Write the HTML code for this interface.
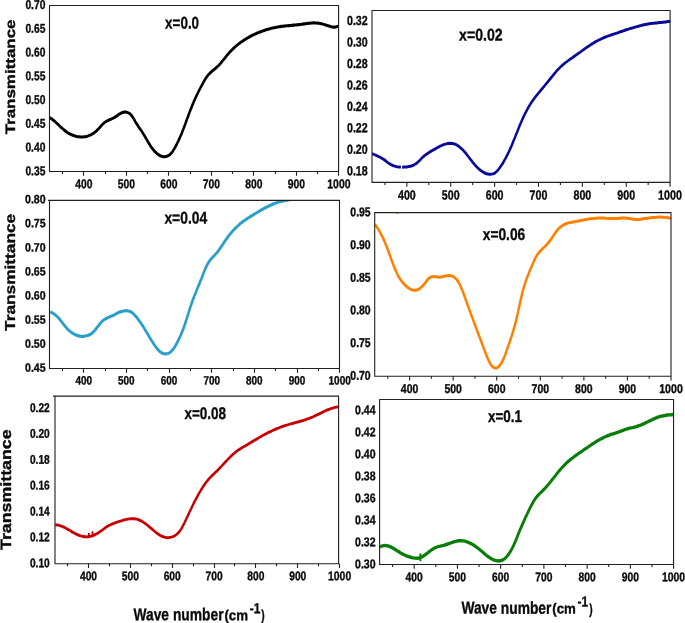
<!DOCTYPE html>
<html><head><meta charset="utf-8"><title>FTIR transmittance</title>
<style>html,body{margin:0;padding:0;background:#fff}svg{display:block;will-change:transform}</style>
</head><body>
<svg width="685" height="623" viewBox="0 0 685 623">
<rect width="685" height="623" fill="#ffffff"/>
<g font-family="'Liberation Sans', sans-serif" font-weight="700" fill="#0a0a0a" stroke="#0a0a0a" stroke-width="0.35" stroke-linejoin="round" text-rendering="geometricPrecision">
<g id="p1">
<path d="M62.50 171.50v2.6M83.50 171.50v4.3M105.50 171.50v2.6M126.50 171.50v4.3M147.50 171.50v2.6M168.50 171.50v4.3M190.50 171.50v2.6M211.50 171.50v4.3M232.50 171.50v2.6M253.50 171.50v4.3M275.50 171.50v2.6M296.50 171.50v4.3M317.50 171.50v2.6M338.50 171.50v4.3" stroke="#202020" stroke-width="1.1" fill="none"/>
<clipPath id="c1"><rect x="49.5" y="5.5" width="289.4" height="166.0"/></clipPath>
<g clip-path="url(#c1)"><path transform="scale(0.80 1)" d="M62.5 117.6C62.9 117.8 64.2 118.6 65.0 119.1C65.9 119.6 66.7 120.2 67.5 120.7C68.3 121.3 69.1 121.8 69.8 122.4C70.6 123.0 71.4 123.6 72.1 124.1C72.9 124.7 73.7 125.3 74.4 125.9C75.2 126.5 75.9 127.1 76.7 127.6C77.5 128.2 78.3 128.8 79.1 129.3C79.9 129.8 80.7 130.4 81.5 130.9C82.3 131.4 83.2 131.9 84.0 132.4C84.9 132.8 85.8 133.3 86.7 133.7C87.6 134.1 88.6 134.5 89.6 134.8C90.5 135.1 91.5 135.4 92.6 135.7C93.6 136.0 94.6 136.2 95.7 136.4C96.7 136.6 97.8 136.7 98.9 136.8C99.9 136.9 101.0 137.0 102.1 137.0C103.1 137.0 104.2 136.9 105.2 136.8C106.3 136.7 107.3 136.6 108.3 136.4C109.3 136.2 110.3 135.9 111.2 135.6C112.2 135.3 113.1 135.0 114.1 134.6C115.0 134.2 115.9 133.7 116.8 133.3C117.6 132.8 118.5 132.3 119.3 131.8C120.1 131.2 120.9 130.7 121.7 130.1C122.5 129.5 123.2 128.9 123.9 128.2C124.7 127.6 125.3 126.9 126.0 126.3C126.7 125.7 127.4 125.0 128.1 124.4C128.9 123.8 129.6 123.2 130.4 122.7C131.2 122.2 132.0 121.8 132.9 121.3C133.8 120.9 134.7 120.6 135.7 120.2C136.6 119.9 137.6 119.5 138.6 119.2C139.6 118.9 140.5 118.5 141.5 118.1C142.4 117.8 143.4 117.4 144.3 116.9C145.2 116.4 146.1 115.9 147.0 115.4C147.9 114.9 148.7 114.4 149.6 113.9C150.5 113.5 151.4 113.0 152.4 112.7C153.3 112.4 154.4 112.2 155.4 112.1C156.4 112.0 157.4 112.1 158.4 112.2C159.4 112.4 160.3 112.8 161.2 113.2C162.1 113.6 162.9 114.1 163.6 114.7C164.3 115.3 165.0 116.0 165.6 116.7C166.2 117.4 166.7 118.2 167.3 118.9C167.9 119.7 168.4 120.5 168.9 121.3C169.4 122.0 170.0 122.8 170.6 123.5C171.1 124.2 171.7 124.9 172.3 125.6C172.9 126.4 173.5 127.0 174.0 127.7C174.6 128.4 175.2 129.1 175.8 129.8C176.4 130.5 177.0 131.1 177.6 131.8C178.1 132.5 178.7 133.2 179.2 133.9C179.8 134.6 180.3 135.4 180.9 136.1C181.4 136.8 181.9 137.5 182.4 138.3C183.0 139.0 183.5 139.7 184.0 140.5C184.5 141.2 185.1 141.9 185.6 142.6C186.1 143.4 186.7 144.1 187.3 144.8C187.8 145.5 188.4 146.2 189.0 146.9C189.6 147.6 190.2 148.2 190.9 148.9C191.5 149.6 192.2 150.2 192.9 150.8C193.6 151.5 194.4 152.1 195.2 152.7C196.0 153.3 196.8 153.9 197.6 154.4C198.5 154.9 199.4 155.4 200.3 155.8C201.3 156.1 202.3 156.4 203.3 156.6C204.3 156.7 205.4 156.7 206.4 156.6C207.4 156.5 208.4 156.2 209.4 155.9C210.3 155.6 211.3 155.2 212.1 154.7C212.9 154.2 213.6 153.6 214.3 153.0C215.0 152.3 215.6 151.6 216.2 150.9C216.8 150.2 217.4 149.4 217.9 148.7C218.4 147.9 219.0 147.2 219.5 146.4C220.0 145.7 220.5 144.9 221.0 144.1C221.4 143.4 221.9 142.6 222.4 141.8C222.8 141.1 223.3 140.3 223.7 139.5C224.2 138.8 224.6 138.0 225.0 137.2C225.4 136.5 225.9 135.7 226.3 134.9C226.7 134.2 227.1 133.4 227.5 132.6C227.8 131.8 228.2 131.1 228.6 130.3C229.0 129.5 229.4 128.7 229.7 128.0C230.1 127.2 230.5 126.4 230.8 125.6C231.2 124.8 231.6 124.0 231.9 123.3C232.3 122.5 232.7 121.7 233.0 120.9C233.4 120.1 233.7 119.3 234.1 118.5C234.5 117.8 234.8 117.0 235.2 116.2C235.5 115.4 235.9 114.6 236.3 113.8C236.6 113.0 237.0 112.2 237.4 111.4C237.8 110.6 238.1 109.8 238.5 109.0C238.9 108.3 239.3 107.5 239.7 106.7C240.1 105.9 240.5 105.1 240.9 104.3C241.3 103.5 241.7 102.8 242.1 102.0C242.5 101.2 242.9 100.5 243.3 99.7C243.8 98.9 244.2 98.2 244.6 97.4C245.1 96.6 245.5 95.9 246.0 95.1C246.4 94.4 246.9 93.6 247.3 92.9C247.8 92.1 248.3 91.4 248.7 90.6C249.2 89.9 249.7 89.1 250.2 88.4C250.7 87.6 251.2 86.9 251.7 86.1C252.2 85.4 252.7 84.6 253.2 83.9C253.7 83.2 254.2 82.4 254.7 81.7C255.2 80.9 255.8 80.2 256.3 79.5C256.9 78.8 257.4 78.0 258.0 77.4C258.6 76.7 259.3 76.0 259.9 75.3C260.6 74.7 261.3 74.1 262.0 73.5C262.7 72.9 263.5 72.3 264.3 71.7C265.1 71.2 265.9 70.6 266.7 70.1C267.5 69.6 268.4 69.1 269.2 68.5C270.0 68.0 270.8 67.4 271.5 66.8C272.3 66.3 273.0 65.7 273.8 65.1C274.5 64.5 275.2 63.8 275.9 63.2C276.6 62.5 277.2 61.9 277.9 61.2C278.6 60.6 279.2 59.9 279.9 59.3C280.5 58.6 281.2 57.9 281.8 57.3C282.5 56.6 283.2 56.0 283.8 55.3C284.5 54.7 285.2 54.0 285.9 53.4C286.6 52.8 287.3 52.1 288.0 51.5C288.7 50.9 289.4 50.3 290.2 49.7C290.9 49.1 291.7 48.6 292.4 48.0C293.2 47.4 294.0 46.8 294.7 46.3C295.5 45.7 296.3 45.2 297.1 44.7C297.9 44.1 298.8 43.6 299.6 43.1C300.4 42.6 301.3 42.1 302.2 41.6C303.0 41.1 303.9 40.7 304.8 40.2C305.7 39.8 306.6 39.3 307.5 38.9C308.4 38.4 309.3 38.0 310.2 37.6C311.1 37.2 312.0 36.7 313.0 36.4C313.9 36.0 314.9 35.6 315.8 35.2C316.8 34.8 317.7 34.5 318.7 34.1C319.6 33.8 320.6 33.4 321.6 33.1C322.5 32.8 323.5 32.4 324.5 32.1C325.5 31.8 326.4 31.5 327.4 31.2C328.4 30.9 329.4 30.7 330.4 30.4C331.4 30.1 332.4 29.9 333.4 29.6C334.4 29.4 335.4 29.2 336.4 28.9C337.4 28.7 338.4 28.5 339.4 28.3C340.5 28.1 341.5 27.9 342.5 27.7C343.5 27.5 344.5 27.4 345.6 27.2C346.6 27.1 347.6 26.9 348.7 26.8C349.7 26.6 350.7 26.5 351.8 26.4C352.8 26.3 353.9 26.2 354.9 26.1C355.9 26.0 357.0 25.9 358.0 25.8C359.1 25.7 360.1 25.7 361.2 25.6C362.2 25.5 363.3 25.4 364.3 25.4C365.4 25.3 366.5 25.2 367.5 25.1C368.6 25.0 369.6 25.0 370.7 24.9C371.7 24.8 372.8 24.7 373.8 24.6C374.9 24.5 375.9 24.4 376.9 24.3C378.0 24.1 379.0 24.0 380.1 23.9C381.1 23.8 382.2 23.7 383.2 23.5C384.2 23.4 385.3 23.3 386.3 23.2C387.4 23.2 388.4 23.1 389.4 23.0C390.5 23.0 391.5 23.0 392.6 22.9C393.6 22.9 394.7 23.0 395.7 23.0C396.8 23.1 397.8 23.2 398.9 23.3C399.9 23.4 400.9 23.6 402.0 23.8C403.0 24.0 404.0 24.2 405.1 24.5C406.1 24.7 407.1 25.0 408.1 25.3C409.1 25.6 410.1 25.9 411.1 26.1C412.1 26.4 413.1 26.6 414.1 26.8C415.1 26.9 416.1 27.0 417.1 27.1C418.1 27.1 419.1 27.0 420.2 26.9C421.2 26.7 422.8 26.1 423.4 26.0" stroke="#000000" stroke-width="3.1" fill="none" stroke-linecap="butt" stroke-linejoin="round"/></g>
<rect x="49.50" y="5.50" width="289.10" height="166.00" fill="none" stroke="#202020" stroke-width="1.1"/>
<text transform="translate(25.40 8.88) rotate(0.04)" font-size="12.8" textLength="20.0" lengthAdjust="spacingAndGlyphs">0.70</text>
<text transform="translate(25.40 32.63) rotate(0.04)" font-size="12.8" textLength="20.0" lengthAdjust="spacingAndGlyphs">0.65</text>
<text transform="translate(25.40 56.38) rotate(0.04)" font-size="12.8" textLength="20.0" lengthAdjust="spacingAndGlyphs">0.60</text>
<text transform="translate(25.40 80.13) rotate(0.04)" font-size="12.8" textLength="20.0" lengthAdjust="spacingAndGlyphs">0.55</text>
<text transform="translate(25.40 103.88) rotate(0.04)" font-size="12.8" textLength="20.0" lengthAdjust="spacingAndGlyphs">0.50</text>
<text transform="translate(25.40 127.63) rotate(0.04)" font-size="12.8" textLength="20.0" lengthAdjust="spacingAndGlyphs">0.45</text>
<text transform="translate(25.40 151.38) rotate(0.04)" font-size="12.8" textLength="20.0" lengthAdjust="spacingAndGlyphs">0.40</text>
<text transform="translate(25.40 175.13) rotate(0.04)" font-size="12.8" textLength="20.0" lengthAdjust="spacingAndGlyphs">0.35</text>
<text transform="translate(75.30 188.23) rotate(0.04)" font-size="12.8" textLength="17.2" lengthAdjust="spacingAndGlyphs">400</text>
<text transform="translate(117.80 188.23) rotate(0.04)" font-size="12.8" textLength="17.2" lengthAdjust="spacingAndGlyphs">500</text>
<text transform="translate(160.30 188.23) rotate(0.04)" font-size="12.8" textLength="17.2" lengthAdjust="spacingAndGlyphs">600</text>
<text transform="translate(202.80 188.23) rotate(0.04)" font-size="12.8" textLength="17.2" lengthAdjust="spacingAndGlyphs">700</text>
<text transform="translate(245.30 188.23) rotate(0.04)" font-size="12.8" textLength="17.2" lengthAdjust="spacingAndGlyphs">800</text>
<text transform="translate(287.80 188.23) rotate(0.04)" font-size="12.8" textLength="17.2" lengthAdjust="spacingAndGlyphs">900</text>
<text transform="translate(327.29 188.23) rotate(0.04)" font-size="12.8" textLength="23.2" lengthAdjust="spacingAndGlyphs">1000</text>
<text transform="translate(165.10 28.40) rotate(0.04)" font-size="16.8" textLength="34.0" lengthAdjust="spacingAndGlyphs">x=0.0</text>
</g>
<g id="p2">
<path d="M384.91 182.40v2.6M406.85 182.40v4.3M428.79 182.40v2.6M450.73 182.40v4.3M472.66 182.40v2.6M494.60 182.40v4.3M516.54 182.40v2.6M538.48 182.40v4.3M560.41 182.40v2.6M582.35 182.40v4.3M604.29 182.40v2.6M626.23 182.40v4.3M648.16 182.40v2.6M670.10 182.40v4.3" stroke="#202020" stroke-width="1.1" fill="none"/>
<clipPath id="c2"><rect x="372.0" y="10.5" width="298.4" height="171.9"/></clipPath>
<g clip-path="url(#c2)"><path transform="scale(0.80 1)" d="M465.0 153.6C465.5 153.8 467.0 154.2 467.9 154.6C468.9 154.9 469.9 155.2 470.8 155.6C471.8 155.9 472.7 156.3 473.6 156.7C474.6 157.1 475.5 157.4 476.4 157.9C477.3 158.3 478.2 158.7 479.1 159.2C479.9 159.6 480.8 160.1 481.7 160.6C482.5 161.1 483.4 161.7 484.2 162.2C485.1 162.7 485.9 163.2 486.8 163.7C487.7 164.1 488.6 164.6 489.5 164.9C490.4 165.3 491.4 165.6 492.3 165.9C493.3 166.2 494.3 166.4 495.3 166.6C496.3 166.8 497.4 166.9 498.4 167.0C499.4 167.1 500.5 167.1 501.5 167.1C502.6 167.2 503.7 167.2 504.7 167.1C505.8 167.1 506.9 167.0 507.9 167.0C509.0 166.9 510.1 166.7 511.1 166.6C512.1 166.4 513.2 166.2 514.2 166.0C515.2 165.7 516.1 165.4 517.1 165.1C518.0 164.7 518.9 164.3 519.8 163.8C520.6 163.4 521.4 162.8 522.2 162.3C523.0 161.7 523.7 161.1 524.5 160.5C525.2 159.9 526.0 159.2 526.7 158.6C527.5 158.0 528.2 157.4 529.0 156.8C529.8 156.3 530.6 155.7 531.4 155.2C532.2 154.7 533.0 154.2 533.9 153.8C534.7 153.3 535.6 152.9 536.4 152.4C537.3 152.0 538.2 151.6 539.1 151.1C540.0 150.7 540.9 150.3 541.8 149.9C542.7 149.5 543.7 149.1 544.6 148.6C545.5 148.2 546.4 147.8 547.4 147.4C548.3 147.0 549.3 146.6 550.2 146.2C551.2 145.8 552.2 145.5 553.1 145.2C554.1 144.8 555.1 144.5 556.1 144.3C557.1 144.0 558.1 143.8 559.1 143.6C560.1 143.5 561.1 143.4 562.2 143.3C563.2 143.3 564.3 143.3 565.3 143.4C566.3 143.5 567.3 143.7 568.3 144.0C569.3 144.2 570.2 144.6 571.1 145.1C572.0 145.5 572.9 146.0 573.8 146.5C574.6 147.0 575.4 147.6 576.2 148.2C577.0 148.7 577.8 149.3 578.5 149.9C579.3 150.5 580.0 151.2 580.7 151.8C581.3 152.4 582.0 153.1 582.7 153.7C583.3 154.4 584.0 155.0 584.6 155.7C585.3 156.4 585.9 157.0 586.5 157.7C587.2 158.4 587.8 159.1 588.4 159.7C589.1 160.4 589.7 161.1 590.4 161.7C591.0 162.4 591.7 163.0 592.3 163.7C593.0 164.3 593.7 165.0 594.4 165.6C595.1 166.2 595.8 166.8 596.5 167.4C597.3 168.0 598.0 168.5 598.8 169.1C599.6 169.6 600.4 170.2 601.3 170.7C602.2 171.2 603.0 171.7 604.0 172.1C604.9 172.6 605.8 173.0 606.8 173.3C607.8 173.7 608.8 173.9 609.9 174.1C610.9 174.3 612.0 174.3 613.1 174.3C614.1 174.3 615.2 174.1 616.2 173.9C617.1 173.6 618.0 173.2 618.9 172.8C619.7 172.3 620.5 171.8 621.2 171.2C622.0 170.6 622.6 169.9 623.3 169.2C623.9 168.5 624.6 167.8 625.2 167.1C625.8 166.4 626.4 165.7 627.0 165.0C627.5 164.3 628.1 163.6 628.7 162.9C629.2 162.1 629.8 161.4 630.3 160.7C630.8 159.9 631.3 159.2 631.8 158.5C632.3 157.7 632.8 157.0 633.3 156.2C633.8 155.5 634.3 154.8 634.7 154.0C635.2 153.2 635.6 152.5 636.1 151.7C636.5 151.0 637.0 150.2 637.4 149.5C637.8 148.7 638.3 147.9 638.7 147.2C639.1 146.4 639.5 145.6 639.9 144.9C640.3 144.1 640.7 143.3 641.1 142.5C641.5 141.8 641.9 141.0 642.3 140.2C642.7 139.4 643.1 138.7 643.5 137.9C643.9 137.1 644.3 136.3 644.6 135.5C645.0 134.8 645.4 134.0 645.8 133.2C646.2 132.4 646.6 131.6 647.0 130.9C647.3 130.1 647.7 129.3 648.1 128.5C648.5 127.7 648.9 127.0 649.3 126.2C649.7 125.4 650.1 124.6 650.5 123.8C650.9 123.1 651.4 122.3 651.8 121.5C652.2 120.7 652.6 120.0 653.0 119.2C653.5 118.4 653.9 117.7 654.4 116.9C654.8 116.1 655.3 115.4 655.7 114.6C656.2 113.9 656.6 113.1 657.1 112.4C657.6 111.6 658.1 110.9 658.6 110.1C659.1 109.4 659.6 108.7 660.1 107.9C660.6 107.2 661.1 106.5 661.7 105.8C662.2 105.0 662.8 104.3 663.3 103.6C663.9 102.9 664.5 102.2 665.1 101.5C665.7 100.8 666.3 100.1 666.9 99.5C667.5 98.8 668.1 98.1 668.7 97.4C669.4 96.8 670.0 96.1 670.7 95.5C671.4 94.8 672.0 94.2 672.7 93.5C673.4 92.9 674.0 92.2 674.7 91.6C675.4 90.9 676.0 90.3 676.7 89.6C677.4 89.0 678.0 88.4 678.7 87.7C679.4 87.1 680.0 86.4 680.7 85.8C681.4 85.1 682.0 84.5 682.7 83.8C683.4 83.2 684.0 82.5 684.7 81.9C685.4 81.2 686.0 80.6 686.7 79.9C687.3 79.3 688.0 78.6 688.7 78.0C689.3 77.3 690.0 76.7 690.7 76.0C691.3 75.4 692.0 74.7 692.6 74.0C693.3 73.4 694.0 72.7 694.7 72.1C695.3 71.4 696.0 70.8 696.7 70.2C697.4 69.5 698.2 68.9 698.9 68.3C699.6 67.7 700.4 67.1 701.1 66.6C701.9 66.0 702.7 65.5 703.5 64.9C704.3 64.4 705.1 63.8 705.9 63.3C706.7 62.8 707.5 62.3 708.4 61.8C709.2 61.3 710.0 60.8 710.9 60.3C711.7 59.8 712.6 59.3 713.4 58.8C714.3 58.3 715.2 57.9 716.0 57.4C716.9 56.9 717.7 56.4 718.6 55.9C719.4 55.4 720.3 54.9 721.2 54.4C722.0 53.9 722.9 53.5 723.7 53.0C724.6 52.5 725.4 52.0 726.3 51.5C727.1 51.0 728.0 50.5 728.9 50.0C729.7 49.5 730.6 49.0 731.4 48.5C732.3 48.1 733.2 47.6 734.0 47.1C734.9 46.6 735.8 46.2 736.6 45.7C737.5 45.2 738.4 44.8 739.3 44.3C740.2 43.9 741.0 43.4 741.9 43.0C742.8 42.6 743.7 42.1 744.6 41.7C745.5 41.3 746.5 40.9 747.4 40.5C748.3 40.1 749.2 39.7 750.2 39.4C751.1 39.0 752.1 38.6 753.0 38.3C754.0 38.0 754.9 37.6 755.9 37.3C756.9 37.0 757.9 36.7 758.9 36.4C759.8 36.1 760.8 35.8 761.8 35.6C762.8 35.3 763.8 35.0 764.8 34.8C765.8 34.5 766.8 34.2 767.8 33.9C768.8 33.7 769.8 33.4 770.8 33.1C771.8 32.9 772.8 32.6 773.7 32.3C774.7 32.0 775.7 31.7 776.7 31.5C777.7 31.2 778.7 30.9 779.7 30.7C780.7 30.4 781.7 30.1 782.7 29.8C783.6 29.6 784.6 29.3 785.6 29.1C786.6 28.8 787.6 28.6 788.7 28.3C789.7 28.1 790.7 27.8 791.7 27.6C792.7 27.4 793.7 27.1 794.7 26.9C795.7 26.7 796.7 26.4 797.8 26.2C798.8 26.0 799.8 25.8 800.8 25.6C801.8 25.4 802.9 25.2 803.9 25.0C804.9 24.9 805.9 24.7 807.0 24.5C808.0 24.3 809.0 24.2 810.1 24.0C811.1 23.9 812.1 23.7 813.2 23.6C814.2 23.5 815.2 23.4 816.3 23.3C817.3 23.1 818.3 23.0 819.4 22.9C820.4 22.9 821.5 22.8 822.5 22.7C823.5 22.6 824.6 22.5 825.6 22.4C826.7 22.4 827.7 22.3 828.8 22.2C829.8 22.1 830.8 22.0 831.9 21.9C832.9 21.8 834.0 21.7 835.0 21.6C836.1 21.5 837.6 21.3 838.1 21.2" stroke="#0a0a9a" stroke-width="3.0" fill="none" stroke-linecap="butt" stroke-linejoin="round"/></g>
<rect x="372.00" y="10.50" width="298.10" height="171.90" fill="none" stroke="#202020" stroke-width="1.1"/>
<rect x="400.9" y="164" width="1.2" height="6" fill="#ffffff" stroke="none"/>
<text transform="translate(347.00 24.91) rotate(0.04)" font-size="13.1" textLength="20.7" lengthAdjust="spacingAndGlyphs">0.32</text>
<text transform="translate(347.00 46.40) rotate(0.04)" font-size="13.1" textLength="20.7" lengthAdjust="spacingAndGlyphs">0.30</text>
<text transform="translate(347.00 67.89) rotate(0.04)" font-size="13.1" textLength="20.7" lengthAdjust="spacingAndGlyphs">0.28</text>
<text transform="translate(347.00 89.38) rotate(0.04)" font-size="13.1" textLength="20.7" lengthAdjust="spacingAndGlyphs">0.26</text>
<text transform="translate(347.00 110.87) rotate(0.04)" font-size="13.1" textLength="20.7" lengthAdjust="spacingAndGlyphs">0.24</text>
<text transform="translate(347.00 132.36) rotate(0.04)" font-size="13.1" textLength="20.7" lengthAdjust="spacingAndGlyphs">0.22</text>
<text transform="translate(347.00 153.85) rotate(0.04)" font-size="13.1" textLength="20.7" lengthAdjust="spacingAndGlyphs">0.20</text>
<text transform="translate(347.00 175.34) rotate(0.04)" font-size="13.1" textLength="20.7" lengthAdjust="spacingAndGlyphs">0.18</text>
<text transform="translate(397.95 199.54) rotate(0.04)" font-size="13.1" textLength="17.8" lengthAdjust="spacingAndGlyphs">400</text>
<text transform="translate(441.83 199.54) rotate(0.04)" font-size="13.1" textLength="17.8" lengthAdjust="spacingAndGlyphs">500</text>
<text transform="translate(485.70 199.54) rotate(0.04)" font-size="13.1" textLength="17.8" lengthAdjust="spacingAndGlyphs">600</text>
<text transform="translate(529.58 199.54) rotate(0.04)" font-size="13.1" textLength="17.8" lengthAdjust="spacingAndGlyphs">700</text>
<text transform="translate(573.45 199.54) rotate(0.04)" font-size="13.1" textLength="17.8" lengthAdjust="spacingAndGlyphs">800</text>
<text transform="translate(617.33 199.54) rotate(0.04)" font-size="13.1" textLength="17.8" lengthAdjust="spacingAndGlyphs">900</text>
<text transform="translate(658.09 199.54) rotate(0.04)" font-size="13.1" textLength="24.0" lengthAdjust="spacingAndGlyphs">1000</text>
<text transform="translate(459.10 40.60) rotate(0.04)" font-size="16.8" textLength="43.6" lengthAdjust="spacingAndGlyphs">x=0.02</text>
</g>
<g id="p3">
<path d="M62.50 368.50v2.6M83.50 368.50v4.3M105.50 368.50v2.6M126.50 368.50v4.3M147.50 368.50v2.6M169.50 368.50v4.3M190.50 368.50v2.6M211.50 368.50v4.3M233.50 368.50v2.6M254.50 368.50v4.3M275.50 368.50v2.6M297.50 368.50v4.3M318.50 368.50v2.6M339.50 368.50v4.3" stroke="#202020" stroke-width="1.1" fill="none"/>
<clipPath id="c3"><rect x="49.5" y="200.4" width="290.3" height="168.1"/></clipPath>
<g clip-path="url(#c3)"><path transform="scale(0.80 1)" d="M62.8 311.9C63.2 312.1 64.8 312.6 65.7 313.0C66.6 313.4 67.5 313.9 68.3 314.4C69.2 314.9 70.0 315.5 70.7 316.0C71.5 316.6 72.2 317.2 72.9 317.8C73.6 318.4 74.3 319.0 75.0 319.7C75.7 320.3 76.3 321.0 77.0 321.7C77.6 322.3 78.2 323.0 78.9 323.7C79.5 324.4 80.2 325.0 80.8 325.7C81.5 326.4 82.2 327.0 82.9 327.7C83.6 328.3 84.3 328.9 85.0 329.5C85.8 330.1 86.5 330.7 87.4 331.2C88.2 331.8 89.0 332.3 89.9 332.8C90.8 333.3 91.7 333.7 92.6 334.1C93.5 334.5 94.5 334.8 95.5 335.1C96.5 335.4 97.5 335.7 98.5 335.9C99.5 336.1 100.6 336.2 101.6 336.3C102.7 336.3 103.8 336.3 104.8 336.3C105.9 336.2 107.0 336.0 108.1 335.8C109.1 335.6 110.2 335.4 111.1 335.0C112.1 334.7 113.0 334.3 113.8 333.8C114.7 333.3 115.5 332.8 116.2 332.2C117.0 331.7 117.7 331.0 118.4 330.4C119.1 329.8 119.8 329.1 120.4 328.4C121.1 327.7 121.7 327.1 122.4 326.4C123.1 325.7 123.7 325.0 124.4 324.3C125.1 323.7 125.7 323.0 126.5 322.4C127.2 321.8 127.9 321.2 128.7 320.7C129.5 320.2 130.3 319.7 131.2 319.2C132.1 318.8 133.0 318.4 133.9 318.0C134.8 317.6 135.8 317.3 136.8 317.0C137.7 316.6 138.7 316.3 139.7 316.0C140.7 315.7 141.6 315.3 142.6 314.9C143.5 314.5 144.4 314.1 145.4 313.7C146.3 313.3 147.3 312.9 148.2 312.6C149.2 312.2 150.2 311.9 151.2 311.6C152.3 311.4 153.3 311.1 154.4 311.0C155.4 310.8 156.5 310.7 157.5 310.7C158.5 310.7 159.5 310.8 160.5 311.0C161.5 311.1 162.4 311.4 163.3 311.8C164.2 312.2 165.1 312.7 165.9 313.2C166.7 313.8 167.5 314.4 168.2 315.0C168.9 315.7 169.7 316.3 170.4 317.0C171.1 317.7 171.7 318.4 172.4 319.0C173.1 319.7 173.7 320.4 174.3 321.1C175.0 321.8 175.6 322.5 176.2 323.2C176.8 323.9 177.3 324.6 177.9 325.3C178.5 326.0 179.1 326.7 179.6 327.4C180.2 328.1 180.7 328.8 181.2 329.5C181.8 330.3 182.3 331.0 182.8 331.7C183.4 332.4 183.9 333.1 184.4 333.8C185.0 334.6 185.5 335.3 186.0 336.0C186.5 336.7 187.1 337.4 187.6 338.1C188.1 338.9 188.7 339.6 189.2 340.3C189.8 341.0 190.3 341.7 190.9 342.4C191.4 343.1 192.0 343.8 192.6 344.5C193.2 345.2 193.8 345.9 194.5 346.6C195.1 347.3 195.7 348.0 196.4 348.7C197.1 349.4 197.8 350.1 198.6 350.7C199.4 351.3 200.2 351.9 201.1 352.3C202.0 352.8 203.0 353.2 204.0 353.5C205.1 353.7 206.2 353.8 207.2 353.9C208.2 353.9 209.2 353.7 210.1 353.5C211.0 353.2 211.8 352.8 212.6 352.4C213.4 351.9 214.1 351.4 214.8 350.7C215.5 350.1 216.2 349.5 216.8 348.8C217.4 348.1 218.0 347.3 218.6 346.6C219.2 345.8 219.7 345.1 220.3 344.3C220.8 343.5 221.3 342.8 221.8 342.0C222.4 341.3 222.8 340.5 223.3 339.7C223.8 339.0 224.2 338.2 224.7 337.4C225.1 336.6 225.6 335.9 226.0 335.1C226.4 334.3 226.8 333.5 227.2 332.7C227.6 331.9 228.0 331.2 228.4 330.4C228.7 329.6 229.1 328.8 229.5 328.0C229.8 327.2 230.2 326.4 230.5 325.6C230.9 324.8 231.2 324.0 231.5 323.2C231.9 322.4 232.2 321.7 232.5 320.9C232.8 320.1 233.2 319.3 233.5 318.5C233.8 317.7 234.1 316.9 234.4 316.1C234.7 315.3 235.0 314.5 235.4 313.7C235.7 312.9 236.0 312.1 236.3 311.3C236.6 310.5 236.9 309.7 237.2 308.9C237.6 308.1 237.9 307.3 238.2 306.5C238.5 305.7 238.9 304.9 239.2 304.1C239.6 303.3 239.9 302.5 240.3 301.7C240.6 300.9 241.0 300.1 241.3 299.3C241.7 298.6 242.1 297.8 242.5 297.0C242.8 296.2 243.2 295.4 243.6 294.6C244.0 293.8 244.4 293.0 244.8 292.3C245.2 291.5 245.6 290.7 246.0 289.9C246.4 289.1 246.8 288.3 247.2 287.6C247.6 286.8 248.0 286.0 248.4 285.2C248.8 284.4 249.2 283.6 249.6 282.9C250.0 282.1 250.4 281.3 250.8 280.5C251.2 279.7 251.6 278.9 252.0 278.2C252.4 277.4 252.8 276.6 253.1 275.8C253.5 275.0 253.9 274.2 254.3 273.4C254.7 272.6 255.0 271.9 255.4 271.1C255.8 270.3 256.2 269.5 256.6 268.8C257.0 268.0 257.5 267.2 257.9 266.5C258.4 265.7 258.8 265.0 259.3 264.2C259.8 263.5 260.4 262.8 260.9 262.1C261.5 261.4 262.1 260.7 262.7 260.1C263.4 259.4 264.1 258.8 264.8 258.1C265.5 257.5 266.3 256.9 267.0 256.3C267.8 255.6 268.6 255.0 269.3 254.4C270.0 253.8 270.7 253.1 271.4 252.5C272.0 251.8 272.7 251.1 273.3 250.5C273.9 249.8 274.5 249.1 275.1 248.4C275.7 247.7 276.3 247.0 276.9 246.3C277.5 245.6 278.0 244.9 278.6 244.2C279.2 243.5 279.7 242.8 280.3 242.1C280.9 241.4 281.5 240.7 282.1 240.0C282.7 239.3 283.3 238.6 283.9 237.9C284.5 237.3 285.2 236.6 285.8 235.9C286.5 235.2 287.1 234.6 287.8 233.9C288.4 233.3 289.1 232.6 289.8 232.0C290.5 231.4 291.2 230.7 291.9 230.1C292.6 229.5 293.4 228.9 294.1 228.3C294.9 227.7 295.6 227.1 296.4 226.5C297.1 225.9 297.9 225.4 298.7 224.8C299.5 224.3 300.3 223.7 301.1 223.2C302.0 222.7 302.8 222.2 303.6 221.7C304.5 221.2 305.3 220.7 306.2 220.2C307.0 219.7 307.9 219.2 308.8 218.8C309.7 218.3 310.5 217.8 311.4 217.4C312.3 216.9 313.2 216.5 314.1 216.0C315.0 215.6 315.9 215.1 316.8 214.7C317.7 214.2 318.6 213.8 319.5 213.4C320.4 212.9 321.3 212.5 322.2 212.1C323.2 211.6 324.1 211.2 325.0 210.8C325.9 210.3 326.8 209.9 327.7 209.5C328.6 209.1 329.5 208.7 330.5 208.3C331.4 207.9 332.3 207.5 333.3 207.1C334.2 206.7 335.1 206.3 336.1 205.9C337.0 205.6 338.0 205.2 338.9 204.9C339.9 204.5 340.8 204.2 341.8 203.9C342.8 203.6 343.7 203.3 344.7 203.0C345.7 202.7 346.7 202.4 347.7 202.2C348.7 201.9 349.7 201.7 350.8 201.5C351.8 201.3 352.8 201.1 353.9 200.9C354.9 200.7 355.9 200.6 357.0 200.4C358.0 200.2 359.1 200.1 360.1 199.9C361.2 199.8 362.2 199.6 363.2 199.4C364.2 199.2 365.7 198.9 366.2 198.8" stroke="#2a9fca" stroke-width="3.2" fill="none" stroke-linecap="butt" stroke-linejoin="round"/></g>
<rect x="49.50" y="200.40" width="290.00" height="168.10" fill="none" stroke="#202020" stroke-width="1.1"/>
<path d="M47.9 200.4H49.5" stroke="#202020" stroke-width="1.1" fill="none"/>
<text transform="translate(25.00 203.29) rotate(0.04)" font-size="12.1" textLength="20.7" lengthAdjust="spacingAndGlyphs">0.80</text>
<text transform="translate(25.00 227.36) rotate(0.04)" font-size="12.1" textLength="20.7" lengthAdjust="spacingAndGlyphs">0.75</text>
<text transform="translate(25.00 251.43) rotate(0.04)" font-size="12.1" textLength="20.7" lengthAdjust="spacingAndGlyphs">0.70</text>
<text transform="translate(25.00 275.50) rotate(0.04)" font-size="12.1" textLength="20.7" lengthAdjust="spacingAndGlyphs">0.65</text>
<text transform="translate(25.00 299.57) rotate(0.04)" font-size="12.1" textLength="20.7" lengthAdjust="spacingAndGlyphs">0.60</text>
<text transform="translate(25.00 323.64) rotate(0.04)" font-size="12.1" textLength="20.7" lengthAdjust="spacingAndGlyphs">0.55</text>
<text transform="translate(25.00 347.71) rotate(0.04)" font-size="12.1" textLength="20.7" lengthAdjust="spacingAndGlyphs">0.50</text>
<text transform="translate(25.00 371.78) rotate(0.04)" font-size="12.1" textLength="20.7" lengthAdjust="spacingAndGlyphs">0.45</text>
<text transform="translate(75.40 384.48) rotate(0.04)" font-size="12.1" textLength="16.6" lengthAdjust="spacingAndGlyphs">400</text>
<text transform="translate(118.06 384.48) rotate(0.04)" font-size="12.1" textLength="16.6" lengthAdjust="spacingAndGlyphs">500</text>
<text transform="translate(160.72 384.48) rotate(0.04)" font-size="12.1" textLength="16.6" lengthAdjust="spacingAndGlyphs">600</text>
<text transform="translate(203.38 384.48) rotate(0.04)" font-size="12.1" textLength="16.6" lengthAdjust="spacingAndGlyphs">700</text>
<text transform="translate(246.04 384.48) rotate(0.04)" font-size="12.1" textLength="16.6" lengthAdjust="spacingAndGlyphs">800</text>
<text transform="translate(288.70 384.48) rotate(0.04)" font-size="12.1" textLength="16.6" lengthAdjust="spacingAndGlyphs">900</text>
<text transform="translate(328.46 384.48) rotate(0.04)" font-size="12.1" textLength="22.4" lengthAdjust="spacingAndGlyphs">1000</text>
<text transform="translate(164.40 223.60) rotate(0.04)" font-size="16.8" textLength="42.8" lengthAdjust="spacingAndGlyphs">x=0.04</text>
</g>
<g id="p4">
<path d="M387.82 376.20v2.6M409.60 376.20v4.3M431.38 376.20v2.6M453.17 376.20v4.3M474.95 376.20v2.6M496.73 376.20v4.3M518.52 376.20v2.6M540.30 376.20v4.3M562.08 376.20v2.6M583.87 376.20v4.3M605.65 376.20v2.6M627.43 376.20v4.3M649.22 376.20v2.6M671.00 376.20v4.3" stroke="#202020" stroke-width="1.1" fill="none"/>
<clipPath id="c4"><rect x="374.7" y="212.6" width="296.6" height="163.6"/></clipPath>
<g clip-path="url(#c4)"><path transform="scale(0.80 1)" d="M468.8 224.5C469.1 224.8 470.0 225.9 470.6 226.5C471.2 227.2 471.8 228.0 472.4 228.7C472.9 229.4 473.5 230.1 474.0 230.8C474.5 231.5 475.0 232.3 475.5 233.0C476.0 233.7 476.5 234.5 477.0 235.2C477.5 236.0 477.9 236.7 478.4 237.5C478.8 238.2 479.3 239.0 479.7 239.8C480.1 240.5 480.6 241.3 481.0 242.1C481.4 242.8 481.8 243.6 482.2 244.4C482.6 245.2 483.0 246.0 483.4 246.7C483.7 247.5 484.1 248.3 484.5 249.1C484.9 249.9 485.2 250.7 485.6 251.5C486.0 252.3 486.3 253.1 486.7 253.9C487.1 254.6 487.4 255.4 487.8 256.2C488.1 257.0 488.5 257.8 488.8 258.6C489.2 259.4 489.6 260.2 489.9 261.0C490.3 261.8 490.6 262.6 491.0 263.4C491.4 264.2 491.7 265.0 492.1 265.8C492.5 266.5 492.9 267.3 493.3 268.1C493.7 268.9 494.1 269.7 494.5 270.4C494.9 271.2 495.3 272.0 495.8 272.7C496.2 273.5 496.7 274.2 497.1 275.0C497.6 275.7 498.1 276.5 498.7 277.2C499.2 277.9 499.7 278.6 500.3 279.3C500.9 280.0 501.5 280.7 502.2 281.4C502.8 282.0 503.5 282.7 504.2 283.3C504.9 284.0 505.7 284.6 506.4 285.2C507.2 285.8 508.1 286.4 508.9 287.0C509.8 287.5 510.7 288.1 511.6 288.5C512.5 289.0 513.4 289.4 514.4 289.7C515.3 290.0 516.3 290.2 517.2 290.3C518.2 290.4 519.1 290.4 520.1 290.2C521.0 290.1 521.9 289.8 522.8 289.4C523.7 289.1 524.6 288.6 525.5 288.0C526.3 287.5 527.2 286.9 528.0 286.2C528.8 285.6 529.5 284.9 530.3 284.2C531.0 283.5 531.6 282.7 532.3 282.0C532.9 281.3 533.5 280.6 534.1 279.9C534.8 279.3 535.4 278.7 536.2 278.2C537.0 277.7 537.9 277.3 538.8 277.0C539.7 276.7 540.8 276.6 541.8 276.6C542.8 276.6 543.9 276.7 545.0 276.8C546.0 277.0 547.1 277.2 548.2 277.2C549.2 277.2 550.2 277.2 551.2 277.1C552.3 276.9 553.3 276.7 554.3 276.5C555.3 276.3 556.3 276.0 557.4 275.8C558.4 275.6 559.5 275.5 560.5 275.4C561.6 275.4 562.6 275.5 563.6 275.7C564.6 275.9 565.6 276.2 566.6 276.6C567.5 277.0 568.3 277.5 569.1 278.1C569.9 278.7 570.6 279.3 571.3 280.0C572.0 280.6 572.5 281.3 573.1 282.1C573.6 282.8 574.1 283.6 574.6 284.3C575.1 285.1 575.5 285.9 576.0 286.7C576.4 287.4 576.8 288.2 577.2 289.0C577.6 289.8 578.0 290.6 578.4 291.4C578.8 292.1 579.1 292.9 579.5 293.7C579.8 294.5 580.2 295.3 580.5 296.1C580.9 296.8 581.2 297.6 581.6 298.4C581.9 299.2 582.3 300.0 582.7 300.8C583.0 301.6 583.4 302.4 583.7 303.2C584.1 303.9 584.4 304.7 584.8 305.5C585.2 306.3 585.5 307.1 585.9 307.9C586.2 308.7 586.6 309.5 587.0 310.3C587.3 311.0 587.7 311.8 588.0 312.6C588.4 313.4 588.8 314.2 589.1 315.0C589.5 315.8 589.9 316.6 590.2 317.4C590.6 318.2 591.0 319.0 591.3 319.7C591.7 320.5 592.1 321.3 592.4 322.1C592.8 322.9 593.2 323.7 593.5 324.5C593.9 325.3 594.3 326.1 594.7 326.9C595.0 327.7 595.4 328.4 595.8 329.2C596.1 330.0 596.5 330.8 596.9 331.6C597.2 332.4 597.6 333.2 598.0 334.0C598.4 334.8 598.7 335.5 599.1 336.3C599.5 337.1 599.8 337.9 600.2 338.7C600.6 339.5 601.0 340.3 601.3 341.1C601.7 341.8 602.1 342.6 602.4 343.4C602.8 344.2 603.2 345.0 603.5 345.8C603.9 346.6 604.3 347.3 604.6 348.1C605.0 348.9 605.4 349.7 605.8 350.5C606.1 351.2 606.5 352.0 606.9 352.8C607.2 353.6 607.6 354.4 608.0 355.1C608.3 355.9 608.7 356.7 609.1 357.5C609.5 358.2 609.9 359.0 610.4 359.8C610.8 360.6 611.3 361.3 611.8 362.1C612.3 362.9 612.9 363.7 613.5 364.4C614.1 365.1 614.8 365.9 615.5 366.5C616.3 367.1 617.1 367.7 618.0 367.9C618.8 368.1 619.8 368.2 620.6 368.0C621.5 367.8 622.3 367.2 623.1 366.7C623.9 366.2 624.6 365.4 625.3 364.7C626.0 364.0 626.6 363.3 627.1 362.5C627.7 361.8 628.2 361.0 628.6 360.3C629.1 359.5 629.5 358.7 629.9 358.0C630.3 357.2 630.7 356.4 631.1 355.6C631.4 354.8 631.8 354.0 632.1 353.3C632.5 352.5 632.8 351.7 633.2 350.9C633.5 350.1 633.9 349.3 634.2 348.5C634.6 347.7 634.9 346.9 635.3 346.1C635.6 345.3 636.0 344.5 636.3 343.8C636.7 343.0 637.0 342.2 637.4 341.4C637.7 340.6 638.0 339.8 638.4 339.0C638.7 338.2 639.0 337.4 639.3 336.6C639.7 335.8 640.0 335.0 640.3 334.2C640.6 333.4 640.9 332.6 641.2 331.8C641.5 331.0 641.8 330.2 642.1 329.3C642.4 328.5 642.7 327.7 643.0 326.9C643.3 326.1 643.5 325.3 643.8 324.5C644.1 323.7 644.3 322.9 644.6 322.0C644.9 321.2 645.1 320.4 645.3 319.6C645.6 318.8 645.8 317.9 646.1 317.1C646.3 316.3 646.5 315.5 646.8 314.7C647.0 313.8 647.2 313.0 647.5 312.2C647.7 311.4 647.9 310.5 648.1 309.7C648.4 308.9 648.6 308.1 648.8 307.2C649.0 306.4 649.3 305.6 649.5 304.8C649.7 304.0 649.9 303.1 650.2 302.3C650.4 301.5 650.6 300.7 650.9 299.8C651.1 299.0 651.3 298.2 651.6 297.4C651.8 296.6 652.1 295.7 652.3 294.9C652.6 294.1 652.8 293.3 653.1 292.5C653.3 291.7 653.6 290.9 653.9 290.0C654.2 289.2 654.4 288.4 654.7 287.6C655.0 286.8 655.3 286.0 655.6 285.2C655.9 284.4 656.2 283.6 656.6 282.8C656.9 282.0 657.2 281.2 657.6 280.4C657.9 279.6 658.3 278.8 658.6 278.1C659.0 277.3 659.4 276.5 659.8 275.7C660.1 274.9 660.5 274.1 660.9 273.4C661.3 272.6 661.7 271.8 662.1 271.0C662.5 270.3 662.9 269.5 663.3 268.7C663.7 267.9 664.2 267.1 664.6 266.4C665.0 265.6 665.4 264.8 665.8 264.0C666.2 263.2 666.6 262.5 667.1 261.7C667.5 260.9 667.9 260.1 668.4 259.4C668.8 258.6 669.3 257.9 669.8 257.1C670.3 256.4 670.8 255.7 671.4 255.0C672.0 254.3 672.6 253.6 673.2 252.9C673.9 252.3 674.6 251.7 675.3 251.1C676.0 250.5 676.8 249.9 677.5 249.3C678.3 248.7 679.0 248.1 679.8 247.5C680.6 246.9 681.3 246.3 682.1 245.7C682.8 245.1 683.5 244.5 684.2 243.9C684.9 243.2 685.5 242.6 686.2 241.9C686.8 241.3 687.5 240.6 688.1 239.9C688.7 239.2 689.3 238.6 689.9 237.9C690.5 237.2 691.1 236.5 691.7 235.8C692.2 235.1 692.8 234.3 693.4 233.7C694.0 233.0 694.6 232.3 695.2 231.6C695.9 230.9 696.5 230.3 697.2 229.6C697.9 229.0 698.7 228.4 699.4 227.8C700.2 227.2 701.0 226.7 701.9 226.2C702.7 225.7 703.6 225.2 704.5 224.8C705.4 224.4 706.4 224.0 707.4 223.7C708.3 223.4 709.3 223.2 710.3 222.9C711.3 222.7 712.4 222.6 713.4 222.4C714.4 222.2 715.5 222.1 716.5 222.0C717.6 221.8 718.6 221.7 719.7 221.5C720.7 221.4 721.7 221.2 722.8 221.1C723.8 220.9 724.8 220.7 725.9 220.6C726.9 220.4 727.9 220.2 729.0 220.1C730.0 219.9 731.0 219.7 732.0 219.6C733.1 219.4 734.1 219.3 735.1 219.1C736.2 219.0 737.2 218.9 738.3 218.7C739.3 218.6 740.3 218.5 741.4 218.4C742.4 218.3 743.5 218.2 744.5 218.2C745.6 218.1 746.6 218.0 747.7 218.0C748.7 218.0 749.8 218.0 750.8 218.0C751.9 218.0 752.9 218.0 754.0 218.0C755.0 218.1 756.1 218.1 757.1 218.2C758.2 218.2 759.2 218.3 760.3 218.4C761.3 218.4 762.4 218.5 763.4 218.5C764.5 218.6 765.5 218.6 766.6 218.6C767.6 218.6 768.7 218.6 769.7 218.6C770.8 218.6 771.8 218.5 772.9 218.4C773.9 218.3 775.0 218.2 776.0 218.1C777.1 218.1 778.1 218.0 779.2 218.0C780.2 218.0 781.3 218.0 782.3 218.1C783.4 218.2 784.4 218.3 785.4 218.4C786.5 218.5 787.5 218.7 788.6 218.8C789.6 219.0 790.7 219.1 791.7 219.2C792.8 219.3 793.8 219.4 794.9 219.5C795.9 219.5 796.9 219.5 798.0 219.4C799.0 219.4 800.1 219.3 801.1 219.2C802.1 219.1 803.2 218.9 804.2 218.8C805.3 218.7 806.3 218.5 807.4 218.4C808.4 218.3 809.5 218.2 810.5 218.1C811.6 218.0 812.6 217.8 813.6 217.7C814.7 217.6 815.7 217.6 816.8 217.5C817.8 217.4 818.9 217.3 819.9 217.3C821.0 217.2 822.0 217.2 823.1 217.1C824.1 217.1 825.2 217.1 826.2 217.1C827.3 217.1 828.3 217.1 829.4 217.2C830.4 217.2 831.5 217.3 832.5 217.4C833.6 217.5 834.6 217.6 835.6 217.7C836.7 217.8 838.2 218.1 838.8 218.2" stroke="#ff8000" stroke-width="3.0" fill="none" stroke-linecap="butt" stroke-linejoin="round"/></g>
<rect x="374.70" y="212.60" width="296.30" height="163.60" fill="none" stroke="#202020" stroke-width="1.1"/>
<ellipse cx="397.4" cy="213.5" rx="1.0" ry="0.7" fill="#e87400" stroke="none"/>
<text transform="translate(350.30 216.30) rotate(0.04)" font-size="12.7" textLength="20.4" lengthAdjust="spacingAndGlyphs">0.95</text>
<text transform="translate(350.30 248.98) rotate(0.04)" font-size="12.7" textLength="20.4" lengthAdjust="spacingAndGlyphs">0.90</text>
<text transform="translate(350.30 281.66) rotate(0.04)" font-size="12.7" textLength="20.4" lengthAdjust="spacingAndGlyphs">0.85</text>
<text transform="translate(350.30 314.34) rotate(0.04)" font-size="12.7" textLength="20.4" lengthAdjust="spacingAndGlyphs">0.80</text>
<text transform="translate(350.30 347.02) rotate(0.04)" font-size="12.7" textLength="20.4" lengthAdjust="spacingAndGlyphs">0.75</text>
<text transform="translate(350.30 379.70) rotate(0.04)" font-size="12.7" textLength="20.4" lengthAdjust="spacingAndGlyphs">0.70</text>
<text transform="translate(400.85 393.10) rotate(0.04)" font-size="12.7" textLength="17.5" lengthAdjust="spacingAndGlyphs">400</text>
<text transform="translate(444.42 393.10) rotate(0.04)" font-size="12.7" textLength="17.5" lengthAdjust="spacingAndGlyphs">500</text>
<text transform="translate(487.98 393.10) rotate(0.04)" font-size="12.7" textLength="17.5" lengthAdjust="spacingAndGlyphs">600</text>
<text transform="translate(531.55 393.10) rotate(0.04)" font-size="12.7" textLength="17.5" lengthAdjust="spacingAndGlyphs">700</text>
<text transform="translate(575.12 393.10) rotate(0.04)" font-size="12.7" textLength="17.5" lengthAdjust="spacingAndGlyphs">800</text>
<text transform="translate(618.68 393.10) rotate(0.04)" font-size="12.7" textLength="17.5" lengthAdjust="spacingAndGlyphs">900</text>
<text transform="translate(659.19 393.10) rotate(0.04)" font-size="12.7" textLength="23.6" lengthAdjust="spacingAndGlyphs">1000</text>
<text transform="translate(482.70 240.00) rotate(0.04)" font-size="16.8" textLength="42.6" lengthAdjust="spacingAndGlyphs">x=0.06</text>
</g>
<g id="p5">
<path d="M67.50 563.70v2.6M88.50 563.70v4.3M109.50 563.70v2.6M130.50 563.70v4.3M151.50 563.70v2.6M172.50 563.70v4.3M193.50 563.70v2.6M214.50 563.70v4.3M234.50 563.70v2.6M255.50 563.70v4.3M276.50 563.70v2.6M297.50 563.70v4.3M318.50 563.70v2.6M339.50 563.70v4.3" stroke="#202020" stroke-width="1.1" fill="none"/>
<clipPath id="c5"><rect x="55.0" y="396.1" width="283.9" height="167.6"/></clipPath>
<g clip-path="url(#c5)"><path transform="scale(0.80 1)" d="M69.1 524.8C69.7 524.9 71.3 525.0 72.4 525.1C73.4 525.3 74.5 525.5 75.4 525.8C76.4 526.0 77.4 526.3 78.4 526.6C79.3 527.0 80.2 527.3 81.1 527.7C82.1 528.1 82.9 528.5 83.8 528.9C84.7 529.3 85.6 529.7 86.5 530.1C87.4 530.6 88.3 531.0 89.2 531.4C90.1 531.9 91.0 532.3 92.0 532.7C92.9 533.1 93.9 533.5 94.8 533.9C95.8 534.3 96.8 534.7 97.8 535.0C98.8 535.3 99.8 535.6 100.8 535.9C101.8 536.1 102.9 536.3 103.9 536.5C104.9 536.7 105.9 536.8 107.0 536.8C108.0 536.9 109.0 536.9 110.0 536.8C111.0 536.7 112.0 536.6 113.0 536.4C114.0 536.2 115.0 535.9 116.0 535.6C117.0 535.3 118.0 535.0 118.9 534.6C119.9 534.3 120.8 533.8 121.7 533.4C122.6 533.0 123.6 532.5 124.4 532.0C125.3 531.5 126.2 531.0 127.1 530.5C127.9 530.0 128.7 529.5 129.6 529.0C130.4 528.5 131.3 528.0 132.1 527.5C133.0 527.0 133.8 526.6 134.7 526.2C135.6 525.7 136.5 525.4 137.5 525.0C138.4 524.6 139.3 524.3 140.3 524.0C141.2 523.7 142.2 523.4 143.2 523.1C144.2 522.8 145.2 522.5 146.2 522.2C147.2 522.0 148.2 521.7 149.2 521.4C150.2 521.2 151.2 520.9 152.2 520.7C153.3 520.4 154.3 520.2 155.3 519.9C156.4 519.7 157.4 519.5 158.4 519.3C159.5 519.1 160.5 519.0 161.5 518.9C162.6 518.8 163.6 518.7 164.6 518.7C165.7 518.7 166.7 518.7 167.7 518.8C168.8 518.9 169.8 519.0 170.8 519.2C171.8 519.4 172.9 519.7 173.8 520.0C174.8 520.3 175.8 520.6 176.7 521.0C177.6 521.4 178.5 521.8 179.4 522.3C180.2 522.7 181.1 523.2 181.9 523.7C182.8 524.2 183.6 524.7 184.4 525.2C185.2 525.7 186.0 526.3 186.8 526.9C187.6 527.4 188.4 528.0 189.2 528.5C190.0 529.1 190.8 529.7 191.6 530.2C192.4 530.8 193.2 531.4 194.1 531.9C194.9 532.5 195.8 533.0 196.7 533.5C197.6 534.0 198.5 534.5 199.4 534.9C200.3 535.4 201.2 535.8 202.2 536.2C203.1 536.5 204.1 536.8 205.1 537.1C206.1 537.3 207.0 537.5 208.1 537.6C209.1 537.7 210.1 537.7 211.1 537.6C212.1 537.6 213.2 537.4 214.2 537.2C215.2 537.0 216.2 536.7 217.1 536.3C218.1 535.9 218.9 535.5 219.8 535.0C220.6 534.6 221.4 534.0 222.1 533.5C222.8 532.9 223.5 532.3 224.1 531.6C224.8 531.0 225.4 530.3 226.0 529.6C226.5 528.9 227.1 528.1 227.6 527.4C228.1 526.6 228.6 525.9 229.1 525.1C229.6 524.3 230.1 523.5 230.6 522.8C231.1 522.0 231.5 521.2 232.0 520.4C232.5 519.6 232.9 518.9 233.4 518.1C233.8 517.3 234.3 516.6 234.7 515.8C235.2 515.0 235.6 514.3 236.1 513.5C236.5 512.7 237.0 512.0 237.4 511.2C237.9 510.4 238.3 509.7 238.8 508.9C239.2 508.2 239.7 507.4 240.1 506.7C240.6 505.9 241.0 505.2 241.5 504.4C241.9 503.7 242.4 502.9 242.9 502.2C243.3 501.5 243.8 500.7 244.3 500.0C244.7 499.3 245.2 498.5 245.7 497.8C246.2 497.1 246.7 496.3 247.2 495.6C247.7 494.9 248.2 494.1 248.7 493.4C249.2 492.7 249.8 492.0 250.3 491.3C250.8 490.5 251.4 489.8 251.9 489.1C252.5 488.4 253.0 487.7 253.6 487.0C254.2 486.2 254.8 485.5 255.4 484.8C256.0 484.1 256.6 483.4 257.2 482.7C257.9 482.1 258.5 481.4 259.2 480.7C259.8 480.1 260.5 479.4 261.2 478.8C261.9 478.2 262.7 477.6 263.4 477.0C264.1 476.4 264.9 475.8 265.6 475.2C266.4 474.6 267.1 474.0 267.9 473.5C268.6 472.9 269.4 472.3 270.2 471.7C270.9 471.2 271.6 470.6 272.4 470.0C273.1 469.4 273.8 468.8 274.6 468.2C275.3 467.6 276.0 466.9 276.7 466.3C277.5 465.7 278.2 465.1 278.9 464.5C279.6 463.8 280.3 463.2 281.0 462.6C281.7 462.0 282.5 461.4 283.2 460.8C283.9 460.1 284.6 459.5 285.4 458.9C286.1 458.3 286.8 457.7 287.6 457.1C288.3 456.5 289.1 456.0 289.8 455.4C290.6 454.8 291.4 454.3 292.2 453.7C293.0 453.2 293.8 452.6 294.6 452.1C295.4 451.6 296.2 451.1 297.1 450.6C297.9 450.1 298.8 449.6 299.7 449.2C300.5 448.7 301.4 448.3 302.3 447.8C303.2 447.4 304.2 447.0 305.1 446.5C306.0 446.1 306.9 445.7 307.8 445.3C308.7 444.8 309.6 444.4 310.5 444.0C311.4 443.6 312.3 443.1 313.2 442.7C314.1 442.2 315.0 441.8 315.9 441.4C316.8 440.9 317.7 440.5 318.6 440.1C319.5 439.6 320.4 439.2 321.3 438.8C322.2 438.3 323.1 437.9 324.0 437.5C324.9 437.1 325.8 436.7 326.7 436.3C327.7 435.8 328.6 435.4 329.5 435.0C330.4 434.6 331.4 434.2 332.3 433.9C333.2 433.5 334.1 433.1 335.1 432.7C336.0 432.3 337.0 432.0 337.9 431.6C338.9 431.2 339.8 430.9 340.8 430.5C341.7 430.2 342.7 429.8 343.6 429.5C344.6 429.2 345.6 428.8 346.5 428.5C347.5 428.2 348.5 427.9 349.5 427.6C350.4 427.3 351.4 427.0 352.4 426.7C353.4 426.4 354.4 426.1 355.4 425.8C356.4 425.6 357.4 425.3 358.4 425.1C359.4 424.8 360.4 424.6 361.4 424.4C362.4 424.1 363.4 423.9 364.4 423.7C365.5 423.5 366.5 423.2 367.5 423.0C368.5 422.8 369.5 422.6 370.5 422.4C371.6 422.2 372.6 421.9 373.6 421.7C374.6 421.5 375.6 421.3 376.6 421.0C377.6 420.8 378.6 420.6 379.6 420.3C380.6 420.0 381.6 419.8 382.6 419.5C383.6 419.2 384.6 418.9 385.6 418.7C386.5 418.4 387.5 418.0 388.5 417.7C389.4 417.4 390.4 417.1 391.4 416.8C392.3 416.4 393.3 416.1 394.2 415.7C395.2 415.4 396.1 415.0 397.1 414.7C398.0 414.3 399.0 413.9 399.9 413.5C400.9 413.2 401.8 412.8 402.7 412.4C403.7 412.0 404.6 411.6 405.6 411.3C406.5 410.9 407.5 410.6 408.4 410.2C409.4 409.9 410.4 409.6 411.3 409.3C412.3 409.0 413.3 408.7 414.3 408.4C415.3 408.2 416.3 407.9 417.3 407.7C418.3 407.5 419.4 407.3 420.4 407.1C421.4 407.0 423.0 406.8 423.5 406.7" stroke="#c80000" stroke-width="2.9" fill="none" stroke-linecap="butt" stroke-linejoin="round"/></g>
<rect x="55.00" y="396.10" width="283.60" height="167.60" fill="none" stroke="#202020" stroke-width="1.1"/>
<path d="M52.9 396.1H55" stroke="#202020" stroke-width="1.2" fill="none"/>
<path d="M88.8 536.5V533.6M92.5 535.5V532.2" stroke="#c80000" stroke-width="1.9" stroke-linecap="round" fill="none"/>
<circle cx="238.2" cy="450.3" r="0.8" fill="#5a1414" stroke="none"/>
<text transform="translate(29.90 411.94) rotate(0.04)" font-size="12.6" textLength="19.8" lengthAdjust="spacingAndGlyphs">0.22</text>
<text transform="translate(29.90 437.81) rotate(0.04)" font-size="12.6" textLength="19.8" lengthAdjust="spacingAndGlyphs">0.20</text>
<text transform="translate(29.90 463.68) rotate(0.04)" font-size="12.6" textLength="19.8" lengthAdjust="spacingAndGlyphs">0.18</text>
<text transform="translate(29.90 489.55) rotate(0.04)" font-size="12.6" textLength="19.8" lengthAdjust="spacingAndGlyphs">0.16</text>
<text transform="translate(29.90 515.42) rotate(0.04)" font-size="12.6" textLength="19.8" lengthAdjust="spacingAndGlyphs">0.14</text>
<text transform="translate(29.90 541.29) rotate(0.04)" font-size="12.6" textLength="19.8" lengthAdjust="spacingAndGlyphs">0.12</text>
<text transform="translate(29.90 567.16) rotate(0.04)" font-size="12.6" textLength="19.8" lengthAdjust="spacingAndGlyphs">0.10</text>
<text transform="translate(79.95 580.36) rotate(0.04)" font-size="12.6" textLength="17.1" lengthAdjust="spacingAndGlyphs">400</text>
<text transform="translate(121.80 580.36) rotate(0.04)" font-size="12.6" textLength="17.1" lengthAdjust="spacingAndGlyphs">500</text>
<text transform="translate(163.65 580.36) rotate(0.04)" font-size="12.6" textLength="17.1" lengthAdjust="spacingAndGlyphs">600</text>
<text transform="translate(205.50 580.36) rotate(0.04)" font-size="12.6" textLength="17.1" lengthAdjust="spacingAndGlyphs">700</text>
<text transform="translate(247.35 580.36) rotate(0.04)" font-size="12.6" textLength="17.1" lengthAdjust="spacingAndGlyphs">800</text>
<text transform="translate(289.20 580.36) rotate(0.04)" font-size="12.6" textLength="17.1" lengthAdjust="spacingAndGlyphs">900</text>
<text transform="translate(328.06 580.36) rotate(0.04)" font-size="12.6" textLength="23.1" lengthAdjust="spacingAndGlyphs">1000</text>
<text transform="translate(184.40 418.90) rotate(0.04)" font-size="16.8" textLength="41.7" lengthAdjust="spacingAndGlyphs">x=0.08</text>
</g>
<g id="p6">
<path d="M392.59 564.50v2.6M414.20 564.50v4.3M435.81 564.50v2.6M457.42 564.50v4.3M479.04 564.50v2.6M500.65 564.50v4.3M522.26 564.50v2.6M543.88 564.50v4.3M565.49 564.50v2.6M587.10 564.50v4.3M608.71 564.50v2.6M630.32 564.50v4.3M651.94 564.50v2.6M673.55 564.50v4.3" stroke="#202020" stroke-width="1.1" fill="none"/>
<clipPath id="c6"><rect x="379.6" y="399.5" width="294.2" height="165.0"/></clipPath>
<g clip-path="url(#c6)"><path transform="scale(0.80 1)" d="M475.0 546.8C475.5 546.6 477.2 546.0 478.2 545.8C479.3 545.6 480.3 545.5 481.3 545.5C482.3 545.5 483.3 545.6 484.3 545.8C485.2 545.9 486.2 546.2 487.1 546.5C488.1 546.8 489.0 547.2 489.9 547.6C490.8 548.0 491.8 548.4 492.7 548.9C493.6 549.3 494.5 549.8 495.4 550.3C496.3 550.7 497.2 551.2 498.1 551.6C499.0 552.1 499.9 552.5 500.9 553.0C501.8 553.4 502.7 553.8 503.6 554.2C504.6 554.6 505.5 554.9 506.5 555.3C507.4 555.6 508.4 556.0 509.4 556.2C510.3 556.5 511.3 556.8 512.3 557.0C513.3 557.3 514.3 557.5 515.3 557.7C516.3 557.8 517.4 558.0 518.4 558.1C519.4 558.1 520.5 558.2 521.6 558.2C522.6 558.2 523.7 558.1 524.6 557.8C525.6 557.6 526.5 557.2 527.4 556.9C528.3 556.5 529.2 556.0 530.1 555.5C531.0 555.1 531.8 554.6 532.7 554.1C533.5 553.6 534.3 553.0 535.2 552.5C536.0 552.0 536.9 551.4 537.7 550.9C538.6 550.4 539.4 549.9 540.3 549.4C541.2 548.9 542.0 548.4 543.0 548.1C543.9 547.7 544.8 547.4 545.8 547.1C546.7 546.8 547.7 546.6 548.7 546.4C549.7 546.2 550.7 546.1 551.8 545.9C552.8 545.7 553.8 545.5 554.8 545.3C555.8 545.0 556.9 544.8 557.9 544.5C558.9 544.2 559.9 543.9 560.9 543.6C561.9 543.3 562.9 543.0 563.9 542.8C564.9 542.5 566.0 542.2 567.0 541.9C568.0 541.7 569.0 541.5 570.0 541.3C571.0 541.1 572.0 540.9 573.0 540.8C574.0 540.7 575.1 540.7 576.1 540.7C577.1 540.7 578.1 540.8 579.1 540.9C580.1 541.0 581.2 541.2 582.2 541.4C583.2 541.7 584.2 542.0 585.2 542.3C586.2 542.6 587.1 543.0 588.1 543.4C589.1 543.8 590.0 544.2 591.0 544.6C591.9 545.1 592.8 545.6 593.7 546.0C594.5 546.5 595.4 547.0 596.2 547.5C597.1 548.0 597.9 548.5 598.7 549.0C599.5 549.5 600.3 550.0 601.1 550.6C601.8 551.1 602.6 551.6 603.4 552.2C604.2 552.7 605.0 553.3 605.8 553.8C606.6 554.4 607.4 554.9 608.3 555.5C609.1 556.0 609.9 556.5 610.8 557.0C611.7 557.5 612.5 558.0 613.5 558.4C614.4 558.8 615.3 559.2 616.2 559.6C617.2 559.9 618.2 560.2 619.2 560.4C620.2 560.7 621.2 560.9 622.3 560.9C623.3 561.0 624.4 560.9 625.4 560.8C626.4 560.6 627.4 560.3 628.4 560.0C629.3 559.6 630.2 559.1 631.0 558.6C631.8 558.0 632.5 557.4 633.2 556.8C633.9 556.1 634.6 555.5 635.2 554.8C635.9 554.1 636.5 553.4 637.0 552.7C637.6 552.0 638.2 551.3 638.7 550.5C639.2 549.8 639.7 549.1 640.2 548.3C640.7 547.6 641.2 546.8 641.6 546.1C642.1 545.3 642.5 544.6 642.9 543.8C643.4 543.0 643.8 542.3 644.2 541.5C644.6 540.7 645.0 539.9 645.4 539.2C645.8 538.4 646.2 537.6 646.5 536.8C646.9 536.0 647.3 535.3 647.7 534.5C648.1 533.7 648.5 532.9 648.9 532.1C649.3 531.4 649.7 530.6 650.1 529.8C650.5 529.0 650.9 528.3 651.3 527.5C651.7 526.7 652.2 525.9 652.6 525.2C653.0 524.4 653.4 523.6 653.8 522.9C654.3 522.1 654.7 521.3 655.1 520.6C655.5 519.8 656.0 519.0 656.4 518.3C656.8 517.5 657.3 516.8 657.7 516.0C658.2 515.2 658.6 514.5 659.1 513.7C659.5 513.0 660.0 512.2 660.4 511.5C660.9 510.7 661.3 510.0 661.8 509.2C662.3 508.4 662.7 507.7 663.2 506.9C663.7 506.2 664.2 505.4 664.7 504.7C665.2 503.9 665.7 503.2 666.2 502.5C666.7 501.7 667.3 501.0 667.8 500.3C668.4 499.6 669.0 498.9 669.6 498.2C670.2 497.5 670.9 496.9 671.5 496.2C672.2 495.6 672.9 495.0 673.6 494.4C674.4 493.8 675.1 493.2 675.9 492.6C676.6 492.0 677.4 491.4 678.2 490.8C678.9 490.2 679.7 489.6 680.4 489.0C681.1 488.4 681.8 487.8 682.5 487.2C683.2 486.6 683.9 485.9 684.6 485.3C685.3 484.7 686.0 484.0 686.6 483.4C687.3 482.7 687.9 482.1 688.6 481.4C689.2 480.8 689.9 480.1 690.5 479.4C691.2 478.8 691.8 478.1 692.5 477.4C693.1 476.8 693.8 476.1 694.4 475.5C695.0 474.8 695.7 474.1 696.3 473.5C697.0 472.8 697.7 472.2 698.3 471.5C699.0 470.9 699.7 470.2 700.3 469.6C701.0 469.0 701.7 468.3 702.4 467.7C703.1 467.1 703.8 466.5 704.6 465.9C705.3 465.3 706.0 464.7 706.8 464.1C707.5 463.5 708.3 462.9 709.0 462.3C709.8 461.8 710.6 461.2 711.4 460.7C712.2 460.2 713.0 459.6 713.8 459.1C714.6 458.6 715.5 458.1 716.3 457.6C717.1 457.0 718.0 456.5 718.8 456.0C719.7 455.5 720.5 455.1 721.4 454.6C722.2 454.1 723.1 453.6 724.0 453.1C724.8 452.6 725.7 452.2 726.6 451.7C727.4 451.2 728.3 450.7 729.2 450.2C730.0 449.8 730.9 449.3 731.8 448.8C732.6 448.3 733.5 447.9 734.4 447.4C735.2 446.9 736.1 446.4 737.0 446.0C737.8 445.5 738.7 445.0 739.6 444.5C740.5 444.1 741.3 443.6 742.2 443.2C743.1 442.7 744.0 442.3 744.9 441.8C745.8 441.4 746.7 441.0 747.6 440.5C748.5 440.1 749.4 439.7 750.3 439.3C751.2 438.9 752.1 438.5 753.0 438.1C754.0 437.7 754.9 437.4 755.9 437.0C756.8 436.7 757.8 436.3 758.7 436.0C759.7 435.7 760.7 435.4 761.6 435.1C762.6 434.8 763.6 434.5 764.6 434.2C765.6 434.0 766.7 433.7 767.7 433.5C768.7 433.2 769.7 433.0 770.7 432.7C771.7 432.4 772.7 432.2 773.7 431.9C774.7 431.6 775.7 431.3 776.7 431.0C777.6 430.7 778.6 430.4 779.6 430.1C780.6 429.8 781.5 429.5 782.5 429.2C783.5 429.0 784.5 428.7 785.5 428.5C786.5 428.3 787.5 428.1 788.6 427.9C789.6 427.7 790.6 427.6 791.7 427.4C792.7 427.2 793.7 427.0 794.7 426.8C795.7 426.6 796.7 426.3 797.7 426.0C798.7 425.8 799.7 425.5 800.7 425.2C801.6 424.9 802.6 424.5 803.6 424.2C804.5 423.8 805.5 423.5 806.4 423.1C807.4 422.7 808.3 422.4 809.2 422.0C810.2 421.6 811.1 421.2 812.1 420.9C813.0 420.5 813.9 420.1 814.9 419.8C815.8 419.4 816.8 419.0 817.8 418.7C818.7 418.4 819.7 418.0 820.7 417.7C821.6 417.4 822.6 417.2 823.6 416.9C824.6 416.6 825.6 416.4 826.7 416.2C827.7 416.0 828.7 415.8 829.7 415.7C830.8 415.5 831.8 415.4 832.9 415.2C833.9 415.1 835.0 415.0 836.0 414.9C837.0 414.8 838.1 414.7 839.1 414.7C840.2 414.6 841.7 414.5 842.2 414.5" stroke="#087d08" stroke-width="3.4" fill="none" stroke-linecap="butt" stroke-linejoin="round"/></g>
<rect x="379.60" y="399.50" width="293.95" height="165.00" fill="none" stroke="#202020" stroke-width="1.1"/>
<path d="M420.4 554.2V560.4" stroke="#087d08" stroke-width="1.9" stroke-linecap="round" fill="none"/>
<text transform="translate(355.00 414.15) rotate(0.04)" font-size="12.7" textLength="20.6" lengthAdjust="spacingAndGlyphs">0.44</text>
<text transform="translate(355.00 436.15) rotate(0.04)" font-size="12.7" textLength="20.6" lengthAdjust="spacingAndGlyphs">0.42</text>
<text transform="translate(355.00 458.15) rotate(0.04)" font-size="12.7" textLength="20.6" lengthAdjust="spacingAndGlyphs">0.40</text>
<text transform="translate(355.00 480.15) rotate(0.04)" font-size="12.7" textLength="20.6" lengthAdjust="spacingAndGlyphs">0.38</text>
<text transform="translate(355.00 502.15) rotate(0.04)" font-size="12.7" textLength="20.6" lengthAdjust="spacingAndGlyphs">0.36</text>
<text transform="translate(355.00 524.15) rotate(0.04)" font-size="12.7" textLength="20.6" lengthAdjust="spacingAndGlyphs">0.34</text>
<text transform="translate(355.00 546.15) rotate(0.04)" font-size="12.7" textLength="20.6" lengthAdjust="spacingAndGlyphs">0.32</text>
<text transform="translate(355.00 568.15) rotate(0.04)" font-size="12.7" textLength="20.6" lengthAdjust="spacingAndGlyphs">0.30</text>
<text transform="translate(405.60 581.20) rotate(0.04)" font-size="12.7" textLength="17.2" lengthAdjust="spacingAndGlyphs">400</text>
<text transform="translate(448.82 581.20) rotate(0.04)" font-size="12.7" textLength="17.2" lengthAdjust="spacingAndGlyphs">500</text>
<text transform="translate(492.05 581.20) rotate(0.04)" font-size="12.7" textLength="17.2" lengthAdjust="spacingAndGlyphs">600</text>
<text transform="translate(535.27 581.20) rotate(0.04)" font-size="12.7" textLength="17.2" lengthAdjust="spacingAndGlyphs">700</text>
<text transform="translate(578.50 581.20) rotate(0.04)" font-size="12.7" textLength="17.2" lengthAdjust="spacingAndGlyphs">800</text>
<text transform="translate(621.72 581.20) rotate(0.04)" font-size="12.7" textLength="17.2" lengthAdjust="spacingAndGlyphs">900</text>
<text transform="translate(661.94 581.20) rotate(0.04)" font-size="12.7" textLength="23.2" lengthAdjust="spacingAndGlyphs">1000</text>
<text transform="translate(487.90 422.10) rotate(0.04)" font-size="16.8" textLength="34.1" lengthAdjust="spacingAndGlyphs">x=0.1</text>
</g>
<text transform="translate(15.4 134.3) rotate(-90)" font-size="13.7" textLength="114.8" lengthAdjust="spacingAndGlyphs">Transmittance</text>
<text transform="translate(14.9 330.9) rotate(-90)" font-size="14.4" textLength="117.1" lengthAdjust="spacingAndGlyphs">Transmittance</text>
<text transform="translate(10.5 550.0) rotate(-90)" font-size="14.9" textLength="120.6" lengthAdjust="spacingAndGlyphs">Transmittance</text>
<text transform="translate(133.50 620.30) rotate(0.04)" font-size="17.2" textLength="90.0" lengthAdjust="spacingAndGlyphs">Wave number</text><text transform="translate(224.40 620.30) rotate(0.04)" font-size="14.6" textLength="23.6" lengthAdjust="spacingAndGlyphs">(cm</text><text transform="translate(249.70 613.30) rotate(0.04)" font-size="14.7" textLength="10.6" lengthAdjust="spacingAndGlyphs">-1</text><text transform="translate(261.30 620.30) rotate(0.04)" font-size="14.6" textLength="3.4" lengthAdjust="spacingAndGlyphs">)</text>
<text transform="translate(461.40 613.60) rotate(0.04)" font-size="17.2" textLength="90.0" lengthAdjust="spacingAndGlyphs">Wave number</text><text transform="translate(552.30 613.60) rotate(0.04)" font-size="14.6" textLength="23.6" lengthAdjust="spacingAndGlyphs">(cm</text><text transform="translate(577.60 606.60) rotate(0.04)" font-size="14.7" textLength="10.6" lengthAdjust="spacingAndGlyphs">-1</text><text transform="translate(589.20 613.60) rotate(0.04)" font-size="14.6" textLength="3.4" lengthAdjust="spacingAndGlyphs">)</text>
</g>
</svg>
</body></html>
